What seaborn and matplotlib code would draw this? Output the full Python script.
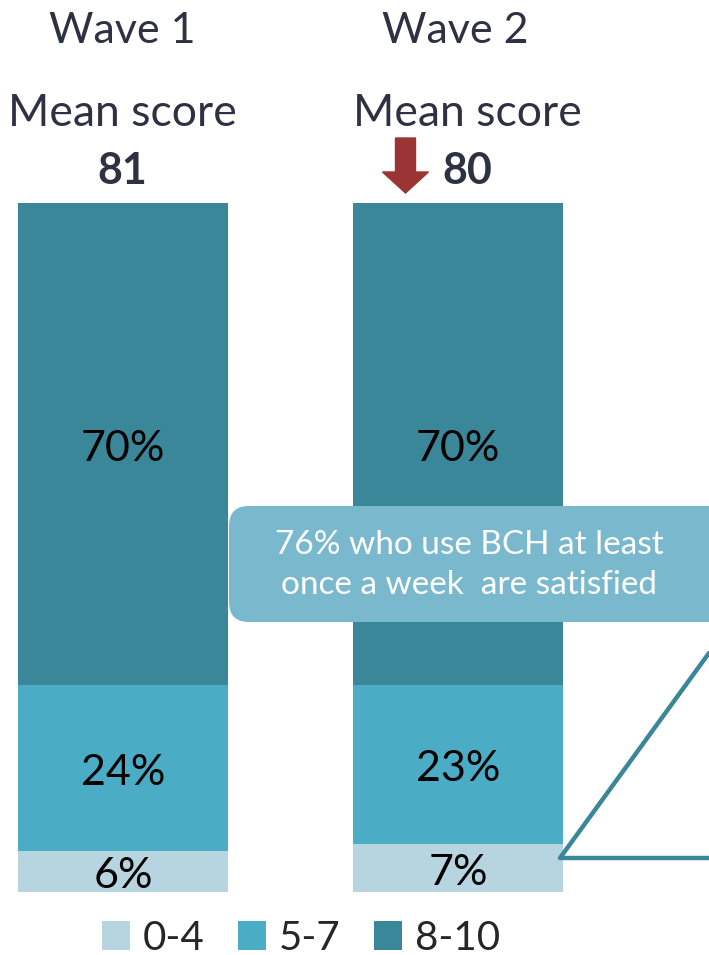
import matplotlib
matplotlib.use("Agg")
import matplotlib.pyplot as plt
import seaborn as sns
import pandas as pd
from matplotlib.patches import Patch, FancyBboxPatch, FancyArrow
from matplotlib.lines import Line2D
from matplotlib.transforms import IdentityTransform

waves = ["Wave 1", "Wave 2"]
mean_scores = [81, 80]
bands = ["0-4", "5-7", "8-10"]
share_0_4 = [6, 7]
share_5_7 = [24, 23]
share_8_10 = [70, 70]
band_colors = ["#B7D5E0", "#4BACC6", "#3A8799"]
callout = "76% who use BCH at least\nonce a week  are satisfied"

sns.set_theme(style="white")
plt.rcParams["font.family"] = ["Lato", "DejaVu Sans"]

W, H = 709, 955
fig = plt.figure(figsize=(W / 100, H / 100), dpi=100)
ax = fig.add_axes([0, 63 / H, 1, 689 / H])

df = pd.DataFrame({"wave": waves, "low": share_0_4, "mid": share_5_7, "high": share_8_10})
df["top"] = df["low"] + df["mid"] + df["high"]
df["midtop"] = df["low"] + df["mid"]

# stacked bars drawn back to front as cumulative totals
for col, color in zip(["top", "midtop", "low"], band_colors[::-1]):
    sns.barplot(data=df, x="wave", y=col, color=color, width=0.627,
                saturation=1, ax=ax, edgecolor="none", linewidth=0)

ax.set_xlim(-0.367, 1.749)
ax.set_ylim(0, 100)
ax.axis("off")

# segment labels
for i in range(len(waves)):
    segs = [df["low"][i], df["mid"][i], df["high"][i]]
    base = 0
    for v in segs:
        ax.text(i, base + v / 2 - 0.7, f"{v}%", ha="center", va="center",
                fontsize=31, color="black", zorder=5)
        base += v

def fx(px):
    return px / W

def fy(py):
    return 1 - py / H

head_color = "#2E3142"
header_x = [122, 455]
mean_x = [122, 467]
for i, w in enumerate(waves):
    fig.text(fx(header_x[i]), fy(31), w, ha="center", va="center",
             fontsize=31, color=head_color)
    fig.text(fx(mean_x[i]), fy(114), "Mean score", ha="center", va="center",
             fontsize=32, color=head_color)
    fig.text(fx(mean_x[i]), fy(171), str(mean_scores[i]), ha="center", va="center",
             fontsize=31, color=head_color, fontweight="bold")

# downward arrow next to the wave 2 score
arrow = FancyArrow(405.5, H - 138, 0, -55, width=20, head_width=46, head_length=21,
                   length_includes_head=True, color="#9B3535", transform=IdentityTransform())
fig.patches.append(arrow)

# callout box
box = FancyBboxPatch((229, H - 622), 520, 116,
                     boxstyle="round,pad=0,rounding_size=20",
                     facecolor="#7AB8CE", edgecolor="none",
                     transform=IdentityTransform(), zorder=10)
fig.patches.append(box)
fig.text(fx(469), fy(565), callout, ha="center", va="center", fontsize=24,
         color="white", linespacing=1.42, zorder=11)

# connector lines
line_kw = dict(color="#3A8799", linewidth=3.2, transform=IdentityTransform(),
               solid_capstyle="round", solid_joinstyle="round")
fig.lines.append(Line2D([709, 560, 712], [H - 653, H - 858, H - 858], **line_kw))

handles = [Patch(facecolor=c, edgecolor="none") for c in band_colors]
fig.legend(handles, bands, loc="center", bbox_to_anchor=(fx(301), fy(938)),
           ncol=3, frameon=False, fontsize=29, handlelength=0.7, handleheight=0.7,
           handletextpad=0.32, columnspacing=0.82, borderaxespad=0, borderpad=0)

fig.savefig("out.png", dpi=100)
